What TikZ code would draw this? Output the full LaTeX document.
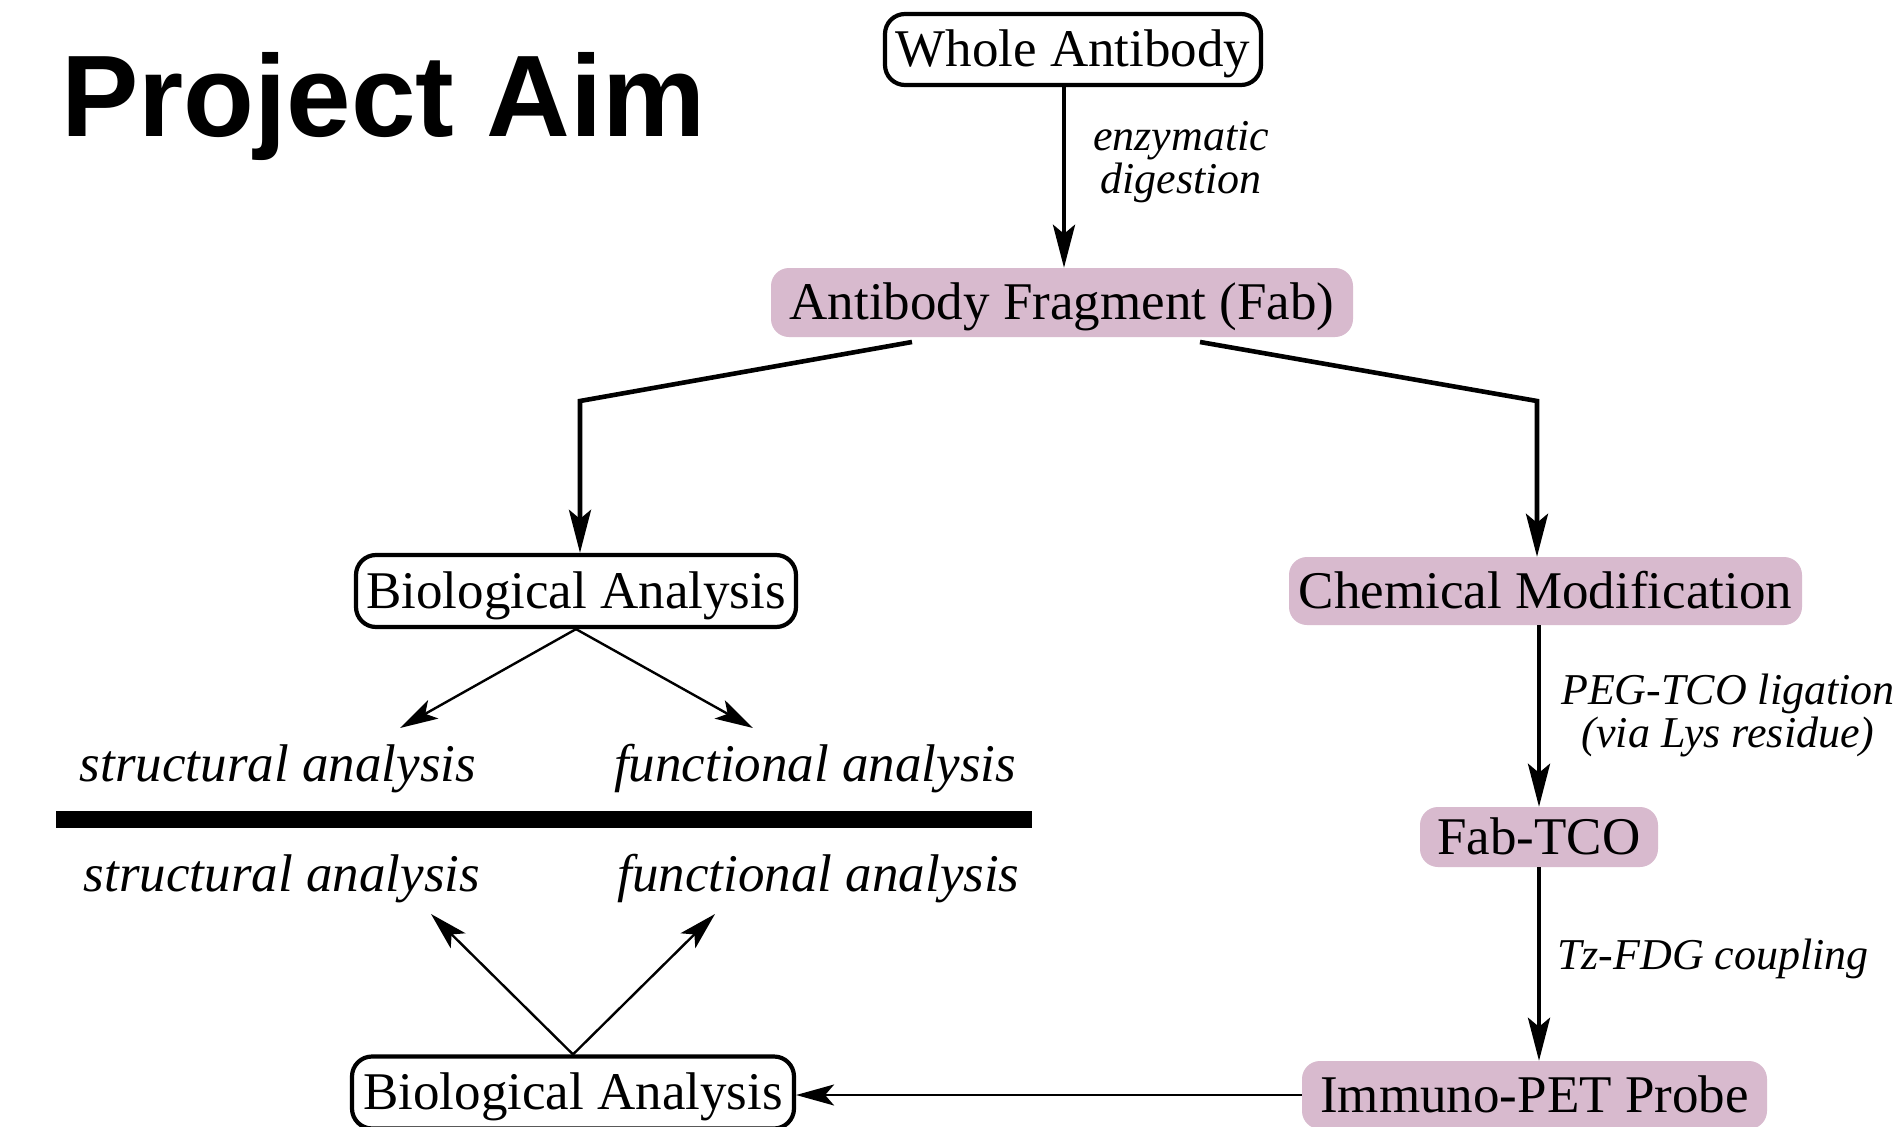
\documentclass[tikz,border=0pt]{standalone}
\usepackage{fontspec}
\setmainfont{Liberation Serif}
\newfontfamily\titlefont{Liberation Sans}
\usetikzlibrary{arrows.meta,calc}
\definecolor{mauve}{RGB}{216,186,206}
\tikzset{
  box/.style={draw, line width=4.2pt, rounded corners=20pt, inner sep=0pt,
    text height=42pt, text depth=8pt, font=\fontsize{53}{60}\selectfont},
  fbox/.style={fill=mauve, rounded corners=18pt, inner sep=0pt,
    text height=42pt, text depth=8pt, font=\fontsize{53}{60}\selectfont},
  lab/.style={font=\fontsize{53}{60}\selectfont\itshape, inner sep=0pt, anchor=base},
  elab/.style={font=\fontsize{44}{43}\selectfont\itshape, inner sep=0pt, anchor=west, align=center},
  bigarrow/.style={line width=4.6pt, -{Stealth[length=43pt,width=22pt,inset=9pt]}},
  thinarrow/.style={line width=2.4pt, -{Stealth[length=38pt,width=21pt,inset=9pt]}},
}
\begin{document}
\begin{tikzpicture}[x=1pt,y=-1pt]
\fill[white] (0,0) rectangle (1899,1127);
\useasboundingbox (0,0) rectangle (1899,1127);

% title
\node[font=\titlefont\bfseries\fontsize{116}{130}\selectfont, anchor=base west, inner sep=0pt] (title) at (61,136) {Project Aim};

% nodes
\node[box, minimum width=376pt, minimum height=71pt] (whole) at (1073,49.5) {Whole Antibody};
\node[fbox, minimum width=582pt, minimum height=69pt] (fab) at (1062,302.5) {Antibody Fragment (Fab)};
\node[box, minimum width=440pt, minimum height=72pt] (bio1) at (576,591) {Biological Analysis};
\node[fbox, minimum width=513pt, minimum height=68pt] (chem) at (1545.5,591) {Chemical Modification};
\node[fbox, minimum width=238pt, minimum height=60pt] (fabtco) at (1539,837) {Fab-TCO};
\node[fbox, minimum width=465pt, minimum height=68pt] (immuno) at (1534.5,1095) {Immuno-PET Probe};
\node[box, minimum width=442pt, minimum height=72pt] (bio2) at (573,1092.5) {Biological Analysis};

% analysis labels
\node[lab] (s1) at (278,781) {structural analysis};
\node[lab] (f1) at (815,781) {functional analysis};
\node[lab] (s2) at (282,891) {structural analysis};
\node[lab] (f2) at (818.5,891) {functional analysis};

% separator bar
\fill (56,811) rectangle (1032,828);

% coordinates
\coordinate (a0) at (1064,87);
\coordinate (bl0) at (912,342);
\coordinate (bl1) at (580,401);
\coordinate (br0) at (1200,342);
\coordinate (br1) at (1537,401);
\coordinate (t1) at (400,728);
\coordinate (t2) at (753,728);
\coordinate (t3) at (431,914);
\coordinate (t4) at (715,914);

% connectors
\draw[bigarrow] (a0) -- (a0 |- fab.north);
\draw[bigarrow] (bl0) -- (bl1) -- (bl1 |- bio1.north);
\draw[bigarrow] (br0) -- (br1) -- (br1 |- chem.north);
\draw[bigarrow] (fabtco.north |- chem.south) -- (fabtco.north);
\draw[bigarrow] (fabtco.south) -- (fabtco.south |- immuno.north);
\draw[thinarrow] (immuno.west) -- (immuno.west -| bio2.east);
\draw[thinarrow] (bio1.south) -- (t1);
\draw[thinarrow] (bio1.south) -- (t2);
\draw[thinarrow] (bio2.north) -- (t3);
\draw[thinarrow] (bio2.north) -- (t4);

% edge labels
\node[elab] (l1) at (1093,162) {enzymatic\\digestion};
\node[elab] (l2) at (1561,715) {PEG-TCO ligation\\(via Lys residue)};
\node[elab] (l3) at (1557,959) {Tz-FDG coupling};
\end{tikzpicture}
\end{document}
